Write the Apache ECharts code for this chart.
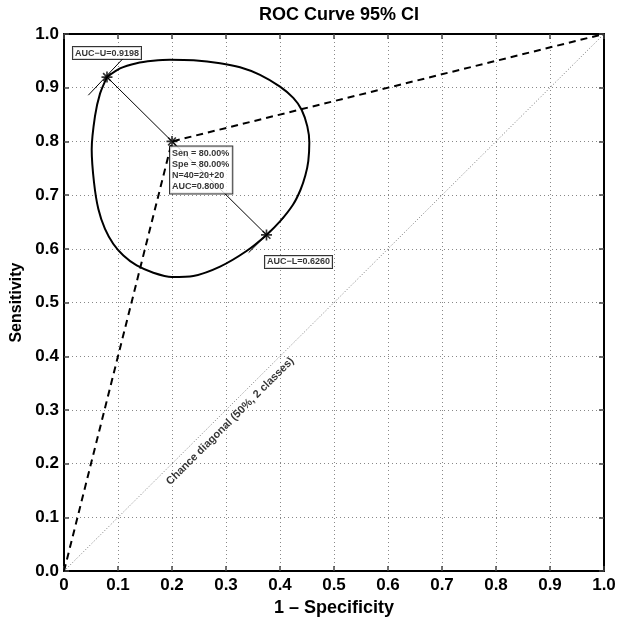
<!DOCTYPE html>
<html>
<head>
<meta charset="utf-8">
<script src="https://cdn.jsdelivr.net/npm/echarts@6/dist/echarts.min.js"></script>
<style>html,body{margin:0;padding:0;background:#fff;}#c{width:640px;height:622px;}</style>
</head>
<body>
<div id="c"></div>
<script>
// ---- data ----
var tickValues = [0, 0.1, 0.2, 0.3, 0.4, 0.5, 0.6, 0.7, 0.8, 0.9, 1.0];
var rocX = [0, 0.2, 1];
var rocY = [0, 0.8, 1];
var chanceX = [0, 1];
var chanceY = [0, 1];
var ciX = [0.0796, 0.1037, 0.1346, 0.165, 0.196, 0.240, 0.289, 0.326, 0.363, 0.400, 0.4246, 0.440, 0.4506, 0.4543, 0.4524, 0.447, 0.438, 0.424, 0.400, 0.375, 0.338, 0.289, 0.2395, 0.1994, 0.1654, 0.1346, 0.110, 0.0914, 0.0759, 0.0636, 0.0556, 0.0513, 0.0574, 0.0667, 0.0796];
var ciY = [0.9198, 0.936, 0.9457, 0.950, 0.952, 0.951, 0.9457, 0.938, 0.924, 0.902, 0.881, 0.859, 0.828, 0.798, 0.7635, 0.737, 0.710, 0.682, 0.651, 0.626, 0.596, 0.567, 0.5495, 0.5476, 0.5556, 0.569, 0.5876, 0.609, 0.637, 0.674, 0.7235, 0.785, 0.847, 0.889, 0.9198];
var opPoint = [0.2, 0.8];
var aucUPoint = [0.0796, 0.9198];
var aucLPoint = [0.375, 0.626];
var tanUX = [0.045, 0.110], tanUY = [0.886, 0.955];
var tanLX = [0.342, 0.408], tanLY = [0.593, 0.659];
var aucULabel = 'AUC\u2212U=0.9198';
var aucLLabel = 'AUC\u2212L=0.6260';
var infoLines = ['Sen = 80.00%', 'Spe = 80.00%', 'N=40=20+20', 'AUC=0.8000'];
var chanceLabel = 'Chance diagonal (50%, 2 classes)';
var chanceLabelAt = [0.3, 0.3];
var titleText = 'ROC Curve 95% CI';
var xName = '1 \u2013 Specificity';
var yName = 'Sensitivity';

function zip(a, b) { return a.map(function (v, i) { return [v, b[i]]; }); }

var FONT = '"Liberation Sans", Arial, Helvetica, sans-serif';
var starPath = 'path://M-1.5,-10 L1.5,-10 L1.5,10 L-1.5,10 Z M-10,-1.5 L10,-1.5 L10,1.5 L-10,1.5 Z M-8.1,-6 L-6,-8.1 L8.1,6 L6,8.1 Z M-8.1,6 L6,-8.1 L8.1,-6 L-6,8.1 Z';

var chart = echarts.init(document.getElementById('c'), null, {renderer: 'canvas'});

var axisCommon = {
  type: 'value', min: 0, max: 1, interval: 0.1,
  axisLine: {show: true, onZero: false, lineStyle: {color: '#000', width: 2}},
  axisTick: {show: true, inside: true, length: 5, lineStyle: {color: '#444', width: 1.5}}
};

var labelBox = {
  show: true, color: '#000', fontFamily: FONT, fontWeight: 'bold', fontSize: 9,
  backgroundColor: '#fff', borderColor: '#000', borderWidth: 1, padding: [2, 2, 1, 2]
};

var option = {
  animation: false,
  backgroundColor: '#fff',
  title: {
    text: titleText, left: 334, top: 1, textAlign: 'center',
    textStyle: {fontFamily: FONT, fontWeight: 'bold', fontSize: 18, color: '#000'}
  },
  grid: {left: 64, top: 34, width: 540, height: 540, containLabel: false},
  xAxis: [
    Object.assign({}, axisCommon, {
      position: 'bottom',
      name: xName, nameLocation: 'middle', nameGap: 23,
      nameTextStyle: {fontFamily: FONT, fontWeight: 'bold', fontSize: 18, color: '#000'},
      axisLabel: {margin: 6, fontFamily: FONT, fontWeight: 'bold', fontSize: 17, color: '#000',
        formatter: function (v) { return v === 0 ? '0' : v.toFixed(1); }},
      splitLine: {show: true, lineStyle: {color: '#888', type: [1, 3], width: 1}}
    }),
    Object.assign({}, axisCommon, {
      position: 'top', axisLabel: {show: false}, splitLine: {show: false}
    })
  ],
  yAxis: [
    Object.assign({}, axisCommon, {
      position: 'left',
      name: yName, nameLocation: 'middle', nameGap: 38, nameRotate: 90,
      nameTextStyle: {fontFamily: FONT, fontWeight: 'bold', fontSize: 16, color: '#000'},
      axisLabel: {margin: 5, fontFamily: FONT, fontWeight: 'bold', fontSize: 17, color: '#000',
        formatter: function (v) { return v.toFixed(1); }},
      splitLine: {show: true, lineStyle: {color: '#888', type: [1, 3], width: 1}}
    }),
    Object.assign({}, axisCommon, {
      position: 'right', axisLabel: {show: false}, splitLine: {show: false}
    })
  ],
  series: [
    {
      name: 'chance', type: 'line', data: zip(chanceX, chanceY), symbol: 'none',
      lineStyle: {color: '#777', width: 1, type: [1, 2]}, z: 2, silent: true
    },
    {
      name: 'ci', type: 'line', data: zip(ciX, ciY), symbol: 'none', smooth: 0.25,
      lineStyle: {color: '#000', width: 2}, z: 3, silent: true
    },
    {
      name: 'roc', type: 'line', data: zip(rocX, rocY), symbol: 'none',
      lineStyle: {color: '#000', width: 2, type: [7, 5]}, z: 4, silent: true
    },
    {
      name: 'radU', type: 'line', data: [opPoint, aucUPoint], symbol: 'none',
      lineStyle: {color: '#000', width: 1}, z: 4, silent: true
    },
    {
      name: 'radL', type: 'line', data: [opPoint, aucLPoint], symbol: 'none',
      lineStyle: {color: '#000', width: 1}, z: 4, silent: true
    },
    {
      name: 'tanU', type: 'line', data: zip(tanUX, tanUY), symbol: 'none',
      lineStyle: {color: '#000', width: 1}, z: 4, silent: true
    },
    {
      name: 'tanL', type: 'line', data: zip(tanLX, tanLY), symbol: 'none',
      lineStyle: {color: '#000', width: 1}, z: 4, silent: true
    },
    {
      name: 'stars', type: 'scatter', data: [opPoint, aucUPoint, aucLPoint],
      symbol: starPath, symbolSize: 11, itemStyle: {color: '#000'}, z: 6, silent: true
    },
    {
      name: 'labels', type: 'scatter', symbol: 'circle', symbolSize: 1,
      itemStyle: {color: 'rgba(0,0,0,0)'}, z: 8, silent: true,
      data: [
        {value: aucUPoint, label: Object.assign({}, labelBox, {formatter: aucULabel, position: 'inside', offset: [0, -24]})},
        {value: aucLPoint, label: Object.assign({}, labelBox, {formatter: aucLLabel, position: 'inside', offset: [32, 27]})},
        {value: opPoint, label: Object.assign({}, labelBox, {formatter: infoLines.join('\n'), lineHeight: 11,
          position: 'inside', align: 'left', verticalAlign: 'top', offset: [-2, 5], padding: [2, 3, 1, 2]})},
        {value: chanceLabelAt, label: {show: true, formatter: chanceLabel, position: 'inside', rotate: 45,
          offset: [-5, 11], fontFamily: FONT, fontWeight: 'bold', fontSize: 11, color: '#000'}}
      ]
    }
  ]
};
chart.setOption(option);
</script>
</body>
</html>
